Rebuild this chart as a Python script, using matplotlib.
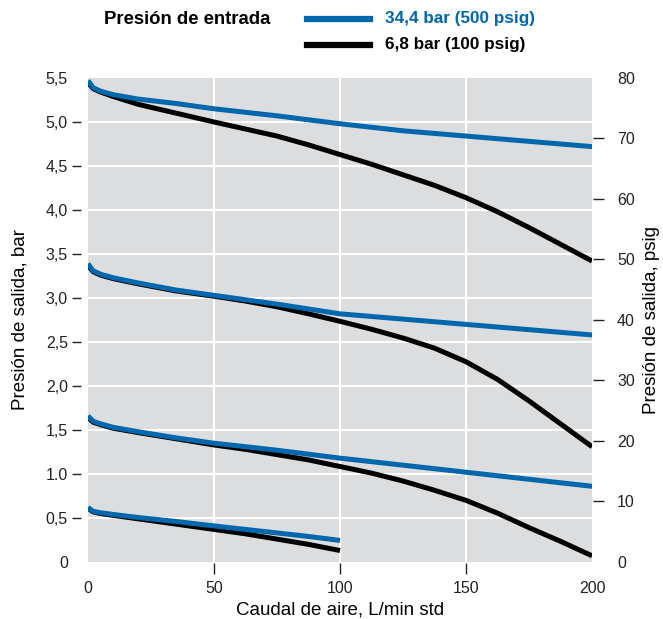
import matplotlib

matplotlib.use("Agg")

import matplotlib.pyplot as plt  # noqa: E402
from matplotlib.lines import Line2D  # noqa: E402

plt.rcParams["font.family"] = ["Liberation Sans", "DejaVu Sans"]

BLUE = "#0067ac"
BLACK = "#000000"
GREY_BG = "#dcdddf"
TICK_COL = "#222222"

# flow, L/min std
flow = [0, 2, 5, 10, 20, 35, 50, 62.5, 75, 87.5, 100,
        112.5, 125, 137.5, 150, 162.5, 175, 187.5, 200]
flow_short = [0, 2, 5, 10, 20, 35, 50, 62.5, 75, 87.5, 100]

# outlet pressure (bar), inlet 34,4 bar
blue_1 = [5.47, 5.39, 5.35, 5.31, 5.26, 5.21, 5.15, 5.11, 5.07, 5.025, 4.98,
          4.94, 4.90, 4.87, 4.84, 4.81, 4.78, 4.75, 4.72]
blue_2 = [3.39, 3.31, 3.27, 3.23, 3.17, 3.09, 3.03, 2.98, 2.93, 2.875, 2.82,
          2.79, 2.76, 2.73, 2.70, 2.67, 2.64, 2.61, 2.58]
blue_3 = [1.66, 1.60, 1.57, 1.53, 1.48, 1.41, 1.35, 1.31, 1.27, 1.225, 1.18,
          1.14, 1.10, 1.06, 1.02, 0.98, 0.94, 0.90, 0.86]
blue_4 = [0.62, 0.575, 0.56, 0.54, 0.505, 0.46, 0.41, 0.37, 0.33, 0.29, 0.245]

# outlet pressure (bar), inlet 6,8 bar
black_1 = [5.45, 5.38, 5.34, 5.29, 5.20, 5.10, 5.00, 4.92, 4.84, 4.74, 4.63,
           4.52, 4.40, 4.28, 4.14, 3.98, 3.80, 3.61, 3.42]
black_2 = [3.37, 3.30, 3.26, 3.22, 3.16, 3.08, 3.02, 2.965, 2.90, 2.82, 2.735,
           2.645, 2.545, 2.43, 2.275, 2.075, 1.83, 1.57, 1.31]
black_3 = [1.64, 1.59, 1.56, 1.52, 1.47, 1.40, 1.33, 1.28, 1.22, 1.16, 1.085,
           1.01, 0.92, 0.815, 0.70, 0.555, 0.39, 0.235, 0.07]
black_4 = [0.61, 0.57, 0.55, 0.53, 0.49, 0.43, 0.37, 0.32, 0.26, 0.20, 0.13]

bar_ticks = [0.5, 1.0, 1.5, 2.0, 2.5, 3.0, 3.5, 4.0, 4.5, 5.0]
bar_labels = ["0,5", "1.0", "1,5", "2,0", "2,5", "3,0", "3,5",
              "4,0", "4,5", "5,0"]
bar_ends = [0, 5.5]
bar_end_labels = ["0", "5,5"]
psig_ticks = [10, 20, 30, 40, 50, 60, 70]
psig_ends = [0, 80]
flow_ticks = [50, 100, 150]
flow_ends = [0, 200]

fig = plt.figure(figsize=(6.63, 6.19), dpi=100)
ax = fig.add_axes([0.1327, 0.0921, 0.7603, 0.7819])
ax.set_facecolor(GREY_BG)

for y in [black_1, black_2, black_3]:
    ax.plot(flow, y, color=BLACK, lw=3.6, solid_capstyle="butt", zorder=3)
ax.plot(flow_short, black_4, color=BLACK, lw=3.6, solid_capstyle="butt", zorder=3)
for y in [blue_1, blue_2, blue_3]:
    ax.plot(flow, y, color=BLUE, lw=3.6, solid_capstyle="butt", zorder=4)
ax.plot(flow_short, blue_4, color=BLUE, lw=3.6, solid_capstyle="butt", zorder=4)

ax.set_xlim(0, 200)
ax.set_ylim(0, 5.5)
for v in bar_ticks:
    ax.axhline(v, color="white", lw=1.5, zorder=1)
for v in flow_ticks:
    ax.axvline(v, color="white", lw=1.5, zorder=1)

for s in ax.spines.values():
    s.set_visible(False)
ax.spines["left"].set_position(("outward", 5))
ax.spines["bottom"].set_position(("outward", 1))

# inner values get a tick mark, the two ends only a label
ax.set_yticks(bar_ticks)
ax.set_yticklabels(bar_labels)
ax.set_yticks(bar_ends, minor=True)
ax.set_yticklabels(bar_end_labels, minor=True)
ax.set_xticks(flow_ticks)
ax.set_xticks(flow_ends, minor=True)
ax.set_xticklabels([str(v) for v in flow_ends], minor=True)
ax.tick_params(axis="both", which="both", labelsize=11.5, colors=TICK_COL,
               width=1.0, direction="out")
ax.tick_params(axis="y", which="major", length=6.5, pad=3)
ax.tick_params(axis="y", which="minor", length=0, pad=9.5)
ax.tick_params(axis="x", which="major", length=8, pad=5)
ax.tick_params(axis="x", which="minor", length=0, pad=13)

ax.set_xlabel("Caudal de aire, L/min std", fontsize=13.5, va="top")
ax.xaxis.set_label_coords(0.5, -0.082)
ax.set_ylabel("Presión de salida, bar", fontsize=13.5, labelpad=12)

ax2 = ax.twinx()
ax2.set_ylim(0, 80)
for s in ax2.spines.values():
    s.set_visible(False)
ax2.spines["right"].set_position(("outward", 1))
ax2.set_yticks(psig_ticks)
ax2.set_yticks(psig_ends, minor=True)
ax2.set_yticklabels([str(v) for v in psig_ends], minor=True)
ax2.tick_params(axis="y", which="both", labelsize=11.5, colors=TICK_COL,
                width=1.0)
ax2.tick_params(axis="y", which="major", length=8, pad=9)
ax2.tick_params(axis="y", which="minor", length=0, pad=17)
ax2.set_ylabel("Presión de salida, psig", fontsize=13.5, labelpad=6)

# legend drawn by hand above the plot
fig.text(104 / 663, 1 - 20 / 619, "Presión de entrada", fontsize=13.3,
         fontweight="bold", va="center", ha="left")
fig.add_artist(Line2D([307 / 663, 370 / 663], [1 - 19 / 619, 1 - 19 / 619],
                      color=BLUE, lw=4.5, transform=fig.transFigure))
fig.add_artist(Line2D([307 / 663, 370 / 663], [1 - 45 / 619, 1 - 45 / 619],
                      color=BLACK, lw=4.5, transform=fig.transFigure))
fig.text(385 / 663, 1 - 19 / 619, "34,4 bar (500 psig)", fontsize=12.3,
         fontweight="bold", color=BLUE, va="center", ha="left")
fig.text(385 / 663, 1 - 45 / 619, "6,8 bar (100 psig)", fontsize=12.3,
         fontweight="bold", color=BLACK, va="center", ha="left")

fig.savefig("out.png", dpi=100)
plt.close(fig)
